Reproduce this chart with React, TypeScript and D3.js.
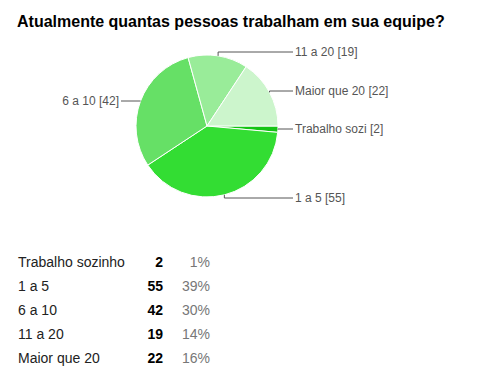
import React from "react";
import * as d3 from "d3";

const title = "Atualmente quantas pessoas trabalham em sua equipe?";
const categories = ["Trabalho sozinho", "1 a 5", "6 a 10", "11 a 20", "Maior que 20"];
const pieLabels = ["Trabalho sozi", "1 a 5", "6 a 10", "11 a 20", "Maior que 20"];
const values = [2, 55, 42, 19, 22];
const percents = ["1%", "39%", "30%", "14%", "16%"];
const colors = ["#14c414", "#33dd33", "#66e066", "#99ec99", "#ccf5cc"];

export default function App() {
  const W = 491, H = 387;
  const cx = 207, cy = 126, r = 71;
  const pie = d3.pie<number>().sort(null).startAngle(Math.PI / 2).endAngle(Math.PI / 2 + 2 * Math.PI);
  const arcs = pie(values);
  const arc = d3.arc<d3.PieArcDatum<number>>().innerRadius(0).outerRadius(r);
  const font = "Arial, 'Liberation Sans', sans-serif";

  const labelY = [129, 198, 101, 52, 91];

  return (
    <svg width={W} height={H} style={{ position: "absolute", left: 0, top: 0, background: "#fff" }}>
      <text x={17} y={27} fontFamily={font} fontWeight="bold" fontSize={16} fill="#000">{title}</text>
      <g transform={`translate(${cx},${cy})`}>
        {arcs.map((a, i) => (
          <path key={i} d={arc(a) || ""} fill={colors[i]} stroke="#fff" strokeWidth={1} />
        ))}
      </g>
      {arcs.map((a, i) => {
        const mid = (a.startAngle + a.endAngle) / 2;
        const ex = cx + r * Math.sin(mid);
        const ey = cy - r * Math.cos(mid);
        const ly = labelY[i];
        const right = Math.sin(mid) >= 0;
        const lx = right ? 295 : 119;
        const pts = right
          ? `${ex},${ey} ${ex},${ly} ${lx - 2},${ly}`
          : `${ex},${ey} ${ex},${ly} ${lx + 2},${ly}`;
        return (
          <g key={i}>
            <polyline points={pts} fill="none" stroke="#555" strokeWidth={1} />
            <text x={lx} y={ly + 4} fontFamily={font} fontSize={12} fill="#555" textAnchor={right ? "start" : "end"}>
              {`${pieLabels[i]} [${values[i]}]`}
            </text>
          </g>
        );
      })}
      {categories.map((c, i) => {
        const y = 267 + i * 24;
        return (
          <g key={c} fontFamily={font} fontSize={14}>
            <text x={18} y={y} fill="#222">{c}</text>
            <text x={163} y={y} fill="#000" fontWeight="bold" textAnchor="end">{values[i]}</text>
            <text x={210} y={y} fill="#777" textAnchor="end">{percents[i]}</text>
          </g>
        );
      })}
    </svg>
  );
}
